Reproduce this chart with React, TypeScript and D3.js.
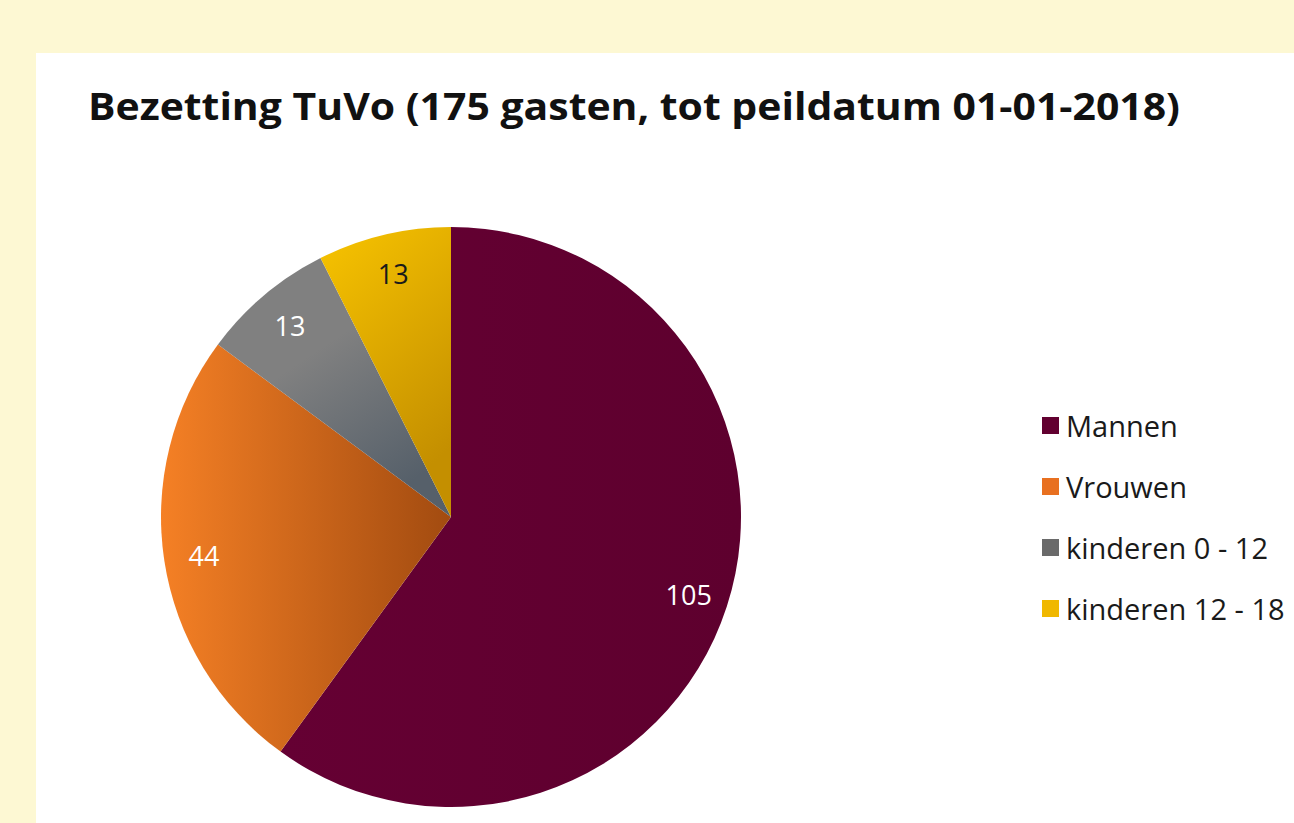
import React from "react";
import * as d3 from "d3";

const categories = ["Mannen", "Vrouwen", "kinderen 0 - 12", "kinderen 12 - 18"];
const values = [105, 44, 13, 13];
const gradStops: [string, string][] = [
  ["#650033", "#5e002e"],
  ["#f58025", "#a24b10"],
  ["#808080", "#56606a"],
  ["#f8c400", "#c48f00"],
];
const legendColors = ["#620030", "#e87020", "#6a6a6a", "#f0b800"];
const labelColors = ["#ffffff", "#ffffff", "#ffffff", "#1a1a1a"];
const title = "Bezetting TuVo (175 gasten, tot peildatum 01-01-2018)";

export default function App() {
  const W = 1294, H = 823;
  const cx = 451, cy = 517, r = 290;
  const pie = d3.pie<number>().sort(null).value((d) => d);
  const arcs = pie(values);
  const arc = d3.arc<d3.PieArcDatum<number>>().innerRadius(0).outerRadius(r);
  const labelArc = d3.arc<d3.PieArcDatum<number>>().innerRadius(250).outerRadius(250);
  const legendY = d3.scalePoint<string>().domain(categories).range([425, 608]);

  return (
    <svg width={W} height={H} style={{ position: "absolute", left: 0, top: 0, display: "block" }}>
      <defs>
        {gradStops.map((g, i) => (
          <linearGradient
            key={i}
            id={`g${i}`}
            x1="0"
            y1="0"
            x2={i === 0 || i === 1 ? "1" : i === 2 ? "0.6" : "0.4"}
            y2={i === 0 || i === 1 ? "0" : "1"}
          >
            <stop offset="0%" stopColor={g[0]} />
            <stop offset={i === 2 ? "45%" : "0%"} stopColor={g[0]} />
            <stop offset="100%" stopColor={g[1]} />
          </linearGradient>
        ))}
      </defs>
      <rect x={0} y={0} width={W} height={H} fill="#fdf8d3" />
      <rect x={36} y={53} width={W - 36} height={H - 53} fill="#ffffff" />
      <text
        x={88}
        y={120}
        fontFamily="'Open Sans', sans-serif"
        fontWeight={700}
        fontSize={37}
        fill="#111"
        textLength={1092}
        lengthAdjust="spacingAndGlyphs"
      >
        {title}
      </text>
      <g transform={`translate(${cx},${cy})`}>
        {arcs.map((a, i) => (
          <path key={i} d={arc(a) || ""} fill={`url(#g${i})`} />
        ))}
        {arcs.map((a, i) => {
          const [x, y] = labelArc.centroid(a);
          return (
            <text
              key={i}
              x={x}
              y={y}
              textAnchor="middle"
              dominantBaseline="central"
              fontFamily="'Open Sans', sans-serif"
              fontSize={27}
              fill={labelColors[i]}
            >
              {values[i]}
            </text>
          );
        })}
      </g>
      {categories.map((c, i) => (
        <g key={c} transform={`translate(1042,${legendY(c)})`}>
          <rect x={0} y={-8} width={17} height={17} fill={legendColors[i]} />
          <text
            x={24}
            y={0}
            dominantBaseline="central"
            fontFamily="'Open Sans', sans-serif"
            fontSize={29}
            fill="#1a1a1a"
          >
            {c}
          </text>
        </g>
      ))}
    </svg>
  );
}
